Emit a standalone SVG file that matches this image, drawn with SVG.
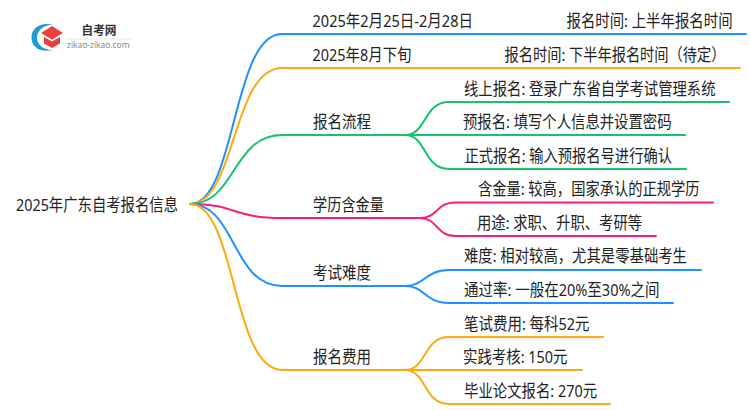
<svg xmlns="http://www.w3.org/2000/svg" width="750" height="410" viewBox="0 0 750 410">
<style>
text{font-family:"Noto Sans","Noto Sans CJK SC",sans-serif;font-size:16.8px;fill:#222}
.c{fill:none;stroke-width:2;stroke-linecap:round}
.b{stroke:#1e90ff}.o{stroke:#ffa90f}.g{stroke:#18c070}.p{stroke:#ff1a78}
</style>
<rect width="750" height="410" fill="#fff"/>
<g id="connectors">
<path class="c b" d="M190 204C236 204 232 34 282 34H746"/>
<path class="c o" d="M190 204C236 204 232 68 282 68H740"/>
<path class="c g" d="M190 204C236 204 232 135 282 135H405"/>
<path class="c p" d="M190 204C236 204 232 218 282 218H420"/>
<path class="c b" d="M190 204C236 204 232 286 282 286H405"/>
<path class="c o" d="M190 204C236 204 232 370 282 370H405"/>
<path class="c g" d="M405 135C427 135 423 102 449 102H729"/>
<path class="c g" d="M405 135H685"/>
<path class="c g" d="M405 135C427 135 423 169 449 169H686"/>
<path class="c p" d="M420 218C438 218 436 202.500 455 202.500H713"/>
<path class="c p" d="M420 218C438 218 436 236 455 236H656"/>
<path class="c b" d="M405 286C425 286 425 270 449 270H701"/>
<path class="c b" d="M405 286C425 286 425 303 449 303H673"/>
<path class="c o" d="M405 370C427 370 423 337 449 337H603"/>
<path class="c o" d="M405 370H582"/>
<path class="c o" d="M405 370C427 370 423 404 449 404H610"/>
</g>
<g id="logo">
<path d="M53 24.500C40 22 31.500 28 31.500 37.500C31.500 47 40 53 53 50C44 50.500 37 45 37 37.500C37 30 44 25 53 24.500Z" fill="#1b9ad6"/>
<path d="M52 26L63 33L52 39.500L41 33Z" fill="#e8403a"/>
<path d="M44 37L52 41.500L60 37V43.500L52 48L44 43.500Z" fill="#e8403a"/>
<text x="81.500" y="35" textLength="35" lengthAdjust="spacingAndGlyphs" style="font-size:12px;font-weight:700;fill:#333">自考网</text>
<path d="M66 39H131" stroke="#e6e6e6" fill="none"/>
<text x="67" y="48" textLength="62.500" lengthAdjust="spacingAndGlyphs" style="font-size:8.500px;fill:#888">zikao-zikao.com</text>
</g>
<g id="root"><text transform="translate(16 211) scale(.855 1)" textLength="189.500" lengthAdjust="spacingAndGlyphs">2025年广东自考报名信息</text></g>
<g id="n1"><text transform="translate(312.500 27) scale(.855 1)" textLength="187.700" lengthAdjust="spacingAndGlyphs">2025年2月25日-2月28日</text></g>
<g id="n1a"><text transform="translate(566.500 27) scale(.855 1)" textLength="194.200" lengthAdjust="spacingAndGlyphs">报名时间: 上半年报名时间</text></g>
<g id="n2"><text transform="translate(312.500 60.500) scale(.855 1)" textLength="115.800" lengthAdjust="spacingAndGlyphs">2025年8月下旬</text></g>
<g id="n2a"><text transform="translate(504.500 60.500) scale(.855 1)" textLength="258.500" lengthAdjust="spacingAndGlyphs">报名时间: 下半年报名时间（待定）</text></g>
<g id="n3"><text transform="translate(313 127.500) scale(.855 1)" textLength="67.800" lengthAdjust="spacingAndGlyphs">报名流程</text></g>
<g id="n3a"><text transform="translate(464 94.500) scale(.855 1)" textLength="294.200" lengthAdjust="spacingAndGlyphs">线上报名: 登录广东省自学考试管理系统</text></g>
<g id="n3b"><text transform="translate(463 127.500) scale(.855 1)" textLength="243.900" lengthAdjust="spacingAndGlyphs">预报名: 填写个人信息并设置密码</text></g>
<g id="n3c"><text transform="translate(464.500 161.500) scale(.855 1)" textLength="242.700" lengthAdjust="spacingAndGlyphs">正式报名: 输入预报名号进行确认</text></g>
<g id="n4"><text transform="translate(313 211) scale(.855 1)" textLength="83" lengthAdjust="spacingAndGlyphs">学历含金量</text></g>
<g id="n4a"><text transform="translate(478 195) scale(.855 1)" textLength="259.100" lengthAdjust="spacingAndGlyphs">含金量: 较高，国家承认的正规学历</text></g>
<g id="n4b"><text transform="translate(477 228.500) scale(.855 1)" textLength="193" lengthAdjust="spacingAndGlyphs">用途: 求职、升职、考研等</text></g>
<g id="n5"><text transform="translate(313 278.500) scale(.855 1)" textLength="67.800" lengthAdjust="spacingAndGlyphs">考试难度</text></g>
<g id="n5a"><text transform="translate(464 262) scale(.855 1)" textLength="260.800" lengthAdjust="spacingAndGlyphs">难度: 相对较高，尤其是零基础考生</text></g>
<g id="n5b"><text transform="translate(464 295.500) scale(.855 1)" textLength="228.700" lengthAdjust="spacingAndGlyphs">通过率: 一般在20%至30%之间</text></g>
<g id="n6"><text transform="translate(313 362.500) scale(.855 1)" textLength="67.800" lengthAdjust="spacingAndGlyphs">报名费用</text></g>
<g id="n6a"><text transform="translate(464 329.500) scale(.855 1)" textLength="146.800" lengthAdjust="spacingAndGlyphs">笔试费用: 每科52元</text></g>
<g id="n6b"><text transform="translate(463 362.500) scale(.855 1)" textLength="122.200" lengthAdjust="spacingAndGlyphs">实践考核: 150元</text></g>
<g id="n6c"><text transform="translate(464 396.500) scale(.855 1)" textLength="155.600" lengthAdjust="spacingAndGlyphs">毕业论文报名: 270元</text></g>
</svg>
